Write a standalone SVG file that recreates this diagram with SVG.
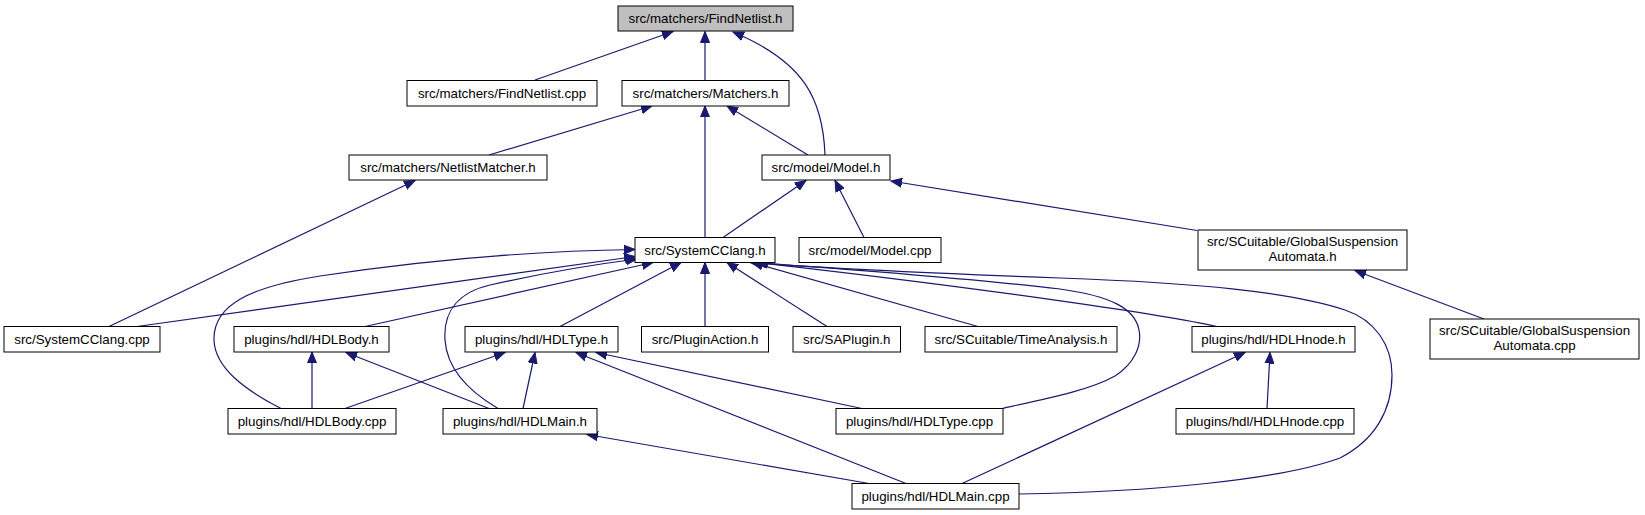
<svg xmlns="http://www.w3.org/2000/svg" width="1645" height="515" viewBox="0 0 1645 515">
<style>
.nd rect{fill:#ffffff;stroke:#000000;stroke-width:1}
.root rect{fill:#bfbfbf}
.nd text{font-family:"Liberation Sans",Arial,sans-serif;font-size:13.33px;fill:#000000;text-anchor:middle}
.ed path{fill:none;stroke:#191970;stroke-width:1.2;marker-end:url(#ah)}
</style>
<defs>
<marker id="ah" markerWidth="12" markerHeight="10" refX="11" refY="5" orient="auto" markerUnits="userSpaceOnUse">
<path d="M0,0.5 L11,5 L0,9.5 z" fill="#191970" stroke="#191970" stroke-width="1"/>
</marker>
</defs>
<rect width="1645" height="515" fill="#ffffff"/>
<g id="edges" class="ed">
<path d="M535,80 L673,31.5"/>
<path d="M705,80 L705,31.5"/>
<path d="M825,155 C823,100 805,62 733,32"/>
<path d="M489,155 L652,106"/>
<path d="M705,237.5 L705,106"/>
<path d="M808,155 L727,106"/>
<path d="M109,326.5 L415,180.5"/>
<path d="M723,237.5 L806,180.5"/>
<path d="M864,237.5 L835,180.5"/>
<path d="M1197,230.5 L891,181"/>
<path d="M1484,319 L1355,270.5"/>
<path d="M137,326.5 L635,256.5"/>
<path d="M365,326.5 L653,262.5"/>
<path d="M281,408.5 C245,390 215,368 214,340 C213,305 250,287 320,276 C420,261 530,251 635,249.5"/>
<path d="M498,408.5 C470,392 447,370 445,340 C443,310 460,292 490,285 C530,276 590,265 637,259"/>
<path d="M560,326.5 L681,262.5"/>
<path d="M705,326.5 L705,262.5"/>
<path d="M827,326.5 L727,262.5"/>
<path d="M978,326.5 L752,262.5"/>
<path d="M1217,326.5 C1170,316 1000,290 757,262.5"/>
<path d="M1002,408.5 C1050,398 1090,390 1115,376 C1135,363 1142,345 1139,330 C1135,308 1110,296 1060,289 C960,277 830,268 755,262.5"/>
<path d="M1019,494 C1150,492 1280,480 1340,458 C1375,440 1392,410 1392,375 C1392,345 1375,320 1345,310 C1290,292 1200,283 1060,278 C950,274 820,268 750,262.5"/>
<path d="M312,408.5 L312,352"/>
<path d="M489,408.5 L346,352.5"/>
<path d="M345,408.5 L505,352.5"/>
<path d="M523,408.5 L535,352.5"/>
<path d="M862,408.5 L596,352.5"/>
<path d="M906,483.5 L576,352.5"/>
<path d="M869,483.5 L587,434.5"/>
<path d="M962,483.5 L1245,352.5"/>
<path d="M1267,408.5 L1270,352.5"/>
</g>
<g id="n0" class="nd root"><rect x="618" y="6" width="175" height="25"/><text x="705.5" y="22.5">src/matchers/FindNetlist.h</text></g>
<g id="n1" class="nd"><rect x="407" y="80.5" width="190" height="25.5"/><text x="502" y="97.5">src/matchers/FindNetlist.cpp</text></g>
<g id="n2" class="nd"><rect x="622" y="80.5" width="167" height="25.5"/><text x="705.5" y="97.5">src/matchers/Matchers.h</text></g>
<g id="n3" class="nd"><rect x="349" y="155" width="198" height="25"/><text x="448" y="172">src/matchers/NetlistMatcher.h</text></g>
<g id="n4" class="nd"><rect x="762" y="155" width="128" height="25"/><text x="826" y="172">src/model/Model.h</text></g>
<g id="n5" class="nd"><rect x="635" y="237.5" width="140" height="25"/><text x="705" y="254.5">src/SystemCClang.h</text></g>
<g id="n6" class="nd"><rect x="799" y="237.5" width="142" height="25"/><text x="870" y="254.5">src/model/Model.cpp</text></g>
<g id="n7" class="nd"><rect x="1198" y="230" width="209" height="40"/><text x="1302.5" y="246">src/SCuitable/GlobalSuspension</text><text x="1302.5" y="261">Automata.h</text></g>
<g id="n8" class="nd"><rect x="4" y="326.5" width="156" height="25.5"/><text x="82" y="343.5">src/SystemCClang.cpp</text></g>
<g id="n9" class="nd"><rect x="234" y="326.5" width="155" height="25.5"/><text x="311.5" y="343.5">plugins/hdl/HDLBody.h</text></g>
<g id="n10" class="nd"><rect x="465" y="326.5" width="153" height="25.5"/><text x="541.5" y="343.5">plugins/hdl/HDLType.h</text></g>
<g id="n11" class="nd"><rect x="641.5" y="326.5" width="127" height="25.5"/><text x="705" y="343.5">src/PluginAction.h</text></g>
<g id="n12" class="nd"><rect x="793" y="326.5" width="107.5" height="25.5"/><text x="846.75" y="343.5">src/SAPlugin.h</text></g>
<g id="n13" class="nd"><rect x="925" y="326.5" width="192" height="25.5"/><text x="1021" y="343.5">src/SCuitable/TimeAnalysis.h</text></g>
<g id="n14" class="nd"><rect x="1192" y="326.5" width="163" height="25.5"/><text x="1273.5" y="343.5">plugins/hdl/HDLHnode.h</text></g>
<g id="n15" class="nd"><rect x="1430" y="319" width="209" height="40"/><text x="1534.5" y="335">src/SCuitable/GlobalSuspension</text><text x="1534.5" y="350">Automata.cpp</text></g>
<g id="n16" class="nd"><rect x="228" y="408.5" width="168" height="25.5"/><text x="312" y="425.5">plugins/hdl/HDLBody.cpp</text></g>
<g id="n17" class="nd"><rect x="443" y="408.5" width="154" height="25.5"/><text x="520" y="425.5">plugins/hdl/HDLMain.h</text></g>
<g id="n18" class="nd"><rect x="836" y="408.5" width="167" height="25.5"/><text x="919.5" y="425.5">plugins/hdl/HDLType.cpp</text></g>
<g id="n19" class="nd"><rect x="1176" y="408.5" width="178" height="25.5"/><text x="1265" y="425.5">plugins/hdl/HDLHnode.cpp</text></g>
<g id="n20" class="nd"><rect x="852" y="483.5" width="167" height="25.5"/><text x="935.5" y="500.5">plugins/hdl/HDLMain.cpp</text></g>
</svg>
